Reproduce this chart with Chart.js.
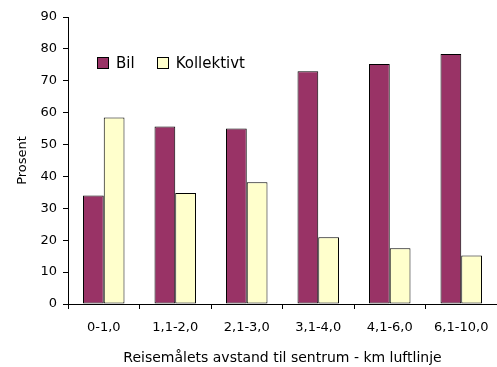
<!DOCTYPE html>
<html>
<head>
<meta charset="utf-8">
<script src="https://cdn.jsdelivr.net/npm/chart.js@4.4.1/dist/chart.umd.min.js"></script>
<style>
  html, body { margin: 0; padding: 0; background: #fff; }
  #wrap { position: relative; width: 497px; height: 367px; }
  #legend { position: absolute; left: 97px; top: 54px; display: flex; align-items: center;
    font-family: "DejaVu Sans", sans-serif; font-size: 15px; color: #000; }
  #legend .item { display: flex; align-items: center; margin-right: 22px; }
  #legend .box { width: 10px; height: 10px; border: 1px solid #000; margin-right: 7px; }
</style>
</head>
<body>
<div id="wrap">
  <canvas id="chart" width="497" height="367"></canvas>
  <div id="legend"></div>
</div>
<script>
// data
const categories = ["0-1,0", "1,1-2,0", "2,1-3,0", "3,1-4,0", "4,1-6,0", "6,1-10,0"];
const bil = [34.0, 55.7, 55.0, 73.0, 75.3, 78.4];
const kollektivt = [58.5, 34.8, 38.2, 20.9, 17.5, 15.2];
const seriesNames = ["Bil", "Kollektivt"];
const seriesColors = ["#993366", "#FFFFCC"];
const yTicks = [0, 10, 20, 30, 40, 50, 60, 70, 80, 90];
const yTitle = "Prosent";
const xTitle = "Reisemålets avstand til sentrum - km luftlinje";

const FONT = "'DejaVu Sans', sans-serif";

const chart = new Chart(document.getElementById("chart"), {
  type: "bar",
  data: {
    labels: categories,
    datasets: [bil, kollektivt].map((values, i) => ({
      label: seriesNames[i],
      data: values,
      backgroundColor: seriesColors[i],
      borderColor: "#000",
      borderWidth: 1,
      borderSkipped: false,
      categoryPercentage: 0.58,
      barPercentage: 1,
    })),
  },
  options: {
    responsive: false,
    animation: false,
    layout: { padding: { top: 17, right: 0, left: 0, bottom: 0 } },
    plugins: { legend: { display: false }, tooltip: { enabled: false } },
    scales: {
      x: {
        grid: { display: true, drawOnChartArea: false, offset: true, color: "#000", tickLength: 5, tickColor: "#000" },
        border: { display: true, color: "#000", width: 1 },
        ticks: { color: "#000", font: { family: FONT, size: 13 }, padding: 11, maxRotation: 0, autoSkip: false },
        title: { display: true, text: xTitle, color: "#000", font: { family: FONT, size: 14 }, padding: { top: 6, bottom: 0 } },
        afterFit: (scale) => {
          scale.height = 63;
          scale.paddingLeft = 0;
          scale.paddingRight = 0;
        },
      },
      y: {
        min: 0,
        max: 90,
        afterBuildTicks: (scale) => { scale.ticks = yTicks.map((v) => ({ value: v })); },
        grid: { display: true, drawOnChartArea: false, color: "#000", tickLength: 5, tickColor: "#000" },
        border: { display: true, color: "#000", width: 1 },
        ticks: { color: "#000", font: { family: FONT, size: 13 }, padding: 6 },
        title: { display: true, text: yTitle, color: "#000", font: { family: FONT, size: 13 }, padding: { top: 15, bottom: 4 } },
        afterFit: (scale) => { scale.width = 68; },
      },
    },
  },
});

const legend = document.getElementById("legend");
seriesNames.forEach((name, i) => {
  const item = document.createElement("div");
  item.className = "item";
  item.innerHTML = `<span class="box" style="background:${seriesColors[i]}"></span><span>${name}</span>`;
  legend.appendChild(item);
});
</script>
</body>
</html>
